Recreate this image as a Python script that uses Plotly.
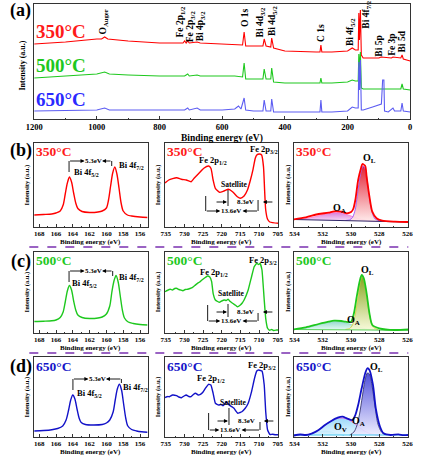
import plotly.graph_objects as go

W, H = 422, 462
FONT = "Liberation Serif, Times New Roman, serif"

# ---------------- data ----------------
# (a) survey spectra: binding energy (eV) / intensity (a.u.)
survey_be_350 = [1200,1100,1000,985,975,965,900,800,725,720,715,710,705,680,670,600,560,535,530,525,
                 500,470,466,460,445,442,436,400,300,288,285,282,250,200,185,175,166,164,162,159,
                 156,150,100,93,60,55,30,26,22,0]
survey_int_350 = [75,77,80,80,82,80,78,76,76,78,76,78,76,77,76,75,75,74,87,73,
                  73,73,80,73,72,81,71,68,67,67,74,67,67,68,71,69,69,106,79,109,
                  64,61,61,62,61,62,61,64,60,58]
survey_be_500 = [1200,1100,1000,975,960,900,800,720,710,705,680,670,600,560,535,530,525,500,470,466,
                 460,445,442,436,400,300,288,285,282,250,200,185,175,166,164,162,159,156,150,100,
                 55,30,26,22,0]
survey_int_500 = [41,43,45,47,45,44,43,43,45,43,44,43,43,43,42,56,40,40,40,50,
                  40,40,51,37,36,36,36,41,36,36,37,39,38,38,65,49,67,31,30,30,
                  30,30,35,30,29]
survey_be_650 = [1200,1000,975,960,800,720,710,705,680,670,600,560,548,540,530,525,500,470,466,460,
                 445,442,436,400,300,288,285,282,250,200,185,175,166,164,162,159,156,150,120,100,
                 92,88,84,82,70,55,50,30,26,22,0]
survey_int_650 = [8,9,11,9,9,9,11,9,11,9,9,10,13,10,21,9,8,8,19,8,
                  8,20,7,7,7,7,19,7,7,8,12,11,11,57,29,59,9,9,12,14,
                  15,39,39,8,7,11,8,8,16,8,7]

# Bi 4f
bi_be_350 = [168.6,167.5,166.5,166.0,165.5,165.15,164.9,164.65,164.4,164.15,163.9,163.65,163.4,162.9,162.0,
             161.0,160.5,160.0,159.75,159.5,159.25,159.0,158.75,158.5,158.25,158.0,157.5,157.0,156.0,155.1]
bi_int_350 = [12,12.5,13,14,16,22,33,44,50,45,34,24,18.5,15.5,14.5,
              15,16,19,27,41,54,60,53,39,24,16,12,11,10,9.5]
bi_be_500 = [168.6,167.5,166.5,166.0,165.5,165.15,164.9,164.65,164.4,164.15,163.9,163.65,163.4,162.9,162.0,
             161.0,160.5,160.0,159.6,159.35,159.1,158.85,158.6,158.35,158.1,157.85,157.4,156.8,156.0,155.1]
bi_int_500 = [10.5,10.8,11.2,12,14.5,20,30,41,46.5,42,31,22,17,14.5,13.5,
              14,15,18,26,40,51,56.5,50,36,22,14,10,8.5,7.5,7]
bi_be_650 = [168.6,167.5,166.5,165.8,165.2,164.8,164.5,164.25,164.0,163.75,163.5,163.25,163.0,162.5,161.5,
             160.5,160.0,159.6,159.2,158.95,158.7,158.45,158.2,157.95,157.7,157.45,157.0,156.4,155.8,155.1]
bi_int_650 = [5,5.5,6.3,7.5,10,16,26,36,41,37,27,18,13.5,11.5,11,
              11.5,13,16,24,36,47,51.7,46,32,18,10,6.5,5,4.2,3.7]

# Fe 2p
fe_be_350 = [735.2,734.2,732.1,730.8,729.5,728.2,727.4,726.1,724.8,723.5,722.9,722.3,721.7,720.6,719.4,718.2,
             717.1,715.8,715.0,714.0,713.1,712.3,711.6,711.0,710.6,709.9,709.3,708.8,708.5,708.2,707.7,707.1,704.8]
fe_int_350 = [44,47,49.3,47.7,47,45.3,48.7,53.7,58.7,61,58.7,47,38.7,34.7,36,37.7,
              35.3,30.3,28.7,31,37,47,57.7,68.7,72,73,72,60.3,37,17,7.7,5,3.7]
fe_be_500 = [735.2,734.6,733.8,733.2,732.6,732.1,731.5,730.9,730.4,729.8,729.1,728.5,727.8,727.2,726.5,725.9,
             725.3,724.6,723.8,723.2,722.7,722.3,721.7,721.1,720.6,720.0,719.3,718.8,718.3,717.7,717.1,716.4,
             715.8,715.0,714.5,714.0,712.9,712.0,711.3,710.6,710.1,709.7,709.2,708.6,708.2,707.7,707.2,706.6,
             706.0,705.2,704.8]
fe_int_500 = [40.3,41.5,42.7,42,43.5,43.7,42.5,41.8,41.3,42.5,42.7,43.5,44.7,46.5,48.7,50,
              52,54,56,55,50.3,38.7,32,30.5,29.7,31,32,31.5,32.7,30.5,28.7,27,
              25.3,27,29,32,42,55.3,65.3,68.7,67.5,68.7,62,32,13.7,3.7,1.8,2.5,
              1.5,2,2]
fe_be_650 = [735.2,734.5,734.0,733.2,732.1,731.5,730.8,730.1,729.5,728.8,728.2,727.6,727.0,726.3,725.7,725.0,
             724.4,723.5,722.9,722.3,721.7,720.8,720.2,719.7,719.2,718.8,718.0,717.4,716.7,716.2,715.7,715.1,
             714.6,713.7,712.9,712.0,711.2,710.6,710.1,709.6,709.2,708.6,708.2,707.7,707.1,706.4,705.6,704.8]
fe_int_650 = [38.5,39.5,39.3,41,40.3,39,38.3,40,41,39.5,39.3,41.5,42.7,41,41.7,44,
              47.7,51.7,51,42.7,32.7,31,31.5,30.3,32,34.3,31,29.5,27.7,25,22.7,23.5,
              24.3,27.7,32.7,44.3,57.7,65,66,65.5,65,51,24.3,6,1.5,1.8,1.2,1.3]

# O 1s envelopes, backgrounds and fitted components
o_be_350 = [534.05,533.2,532.3,531.6,531.2,530.7,530.3,530.0,529.85,529.7,529.5,529.3,529.2,529.0,528.9,528.7,528.5,528.2,527.8,526.9,525.95]
o_int_350 = [7.7,9.7,13,14.3,15.7,15.3,13.7,15,18,27,47,58.7,63,61,50.3,30.3,15.3,8.7,6.3,5.3,5]
o_bg_be_350 = [534.05,525.95]
o_bg_350 = [7.5,5.0]
oa_be_350 = [534.05,533.2,532.5,532.0,531.5,531.0,530.5,530.0,529.5,529.0,528.5,527.8,525.95]
oa_350 = [7.5,8.5,10.5,12.5,14,14.5,13.5,11,8.5,6.8,6,5.8,5]
ol_be_350 = [530.4,530.1,529.9,529.7,529.5,529.3,529.15,529.0,528.85,528.7,528.5,528.3,528.0]
ol_350 = [6.5,7.2,9.5,18,38,55,61,58,46,29,14,8,6.3]

o_be_500 = [534.05,533.2,532.3,531.6,531.2,530.7,530.4,530.0,529.8,529.6,529.4,529.25,529.1,528.9,528.7,528.5,528.0,526.9,525.95]
o_int_500 = [2.7,4.7,8,10.3,11.3,11,10.3,10.3,18.7,35.3,50.3,57,53.7,38.7,18.7,7,3.7,2,2.7]
o_bg_be_500 = [534.05,525.95]
o_bg_500 = [2.5,1.8]
oa_be_500 = [534.05,533.2,532.5,532.0,531.5,531.0,530.5,530.0,529.5,529.0,528.5,527.8,525.95]
oa_500 = [2.5,4,6.5,8.5,10,10.5,9.5,7.5,5,3.2,2.4,2.1,1.8]
ol_be_500 = [530.4,530.1,529.9,529.7,529.5,529.35,529.22,529.1,528.95,528.8,528.6,528.4,528.1]
ol_500 = [2.6,3.5,7,18,36,50,55.5,52,42,26,11,4.5,2.4]

o_be_650 = [534.05,533.6,533.2,532.75,532.3,531.85,531.4,530.95,530.6,530.3,529.9,529.7,529.5,529.25,529.0,
            528.85,528.7,528.45,528.25,527.95,527.7,527.2,526.65,526.3,525.95]
o_int_650 = [0.5,1.5,1,2.7,6,11,15,18.3,19.3,17.7,16,21,31,47.7,62.7,67.7,66,51,27.7,9.3,2.7,1,1.7,0.8,1]
o_bg_be_650 = [534.05,525.95]
o_bg_650 = [1.0,1.0]
ov_be_650 = [533.2,532.7,532.2,531.8,531.4,531.0,530.5]
ov_650 = [1,2.5,4.2,4.8,4,2.3,1]
oa_be_650 = [533.2,532.6,532.0,531.5,531.0,530.6,530.2,529.8,529.4,529.0,528.5,528.0]
oa_650 = [1,3.5,9,14.5,17.5,18,16.5,13,8.5,4.5,1.8,1]
ol_be_650 = [530.1,529.8,529.6,529.4,529.2,529.0,528.85,528.7,528.5,528.3,528.1,527.85,527.6]
ol_650 = [1,4,10,22,40,57,63,62,49,29,12,4,1.2]

temps = ["350°C", "500°C", "650°C"]
tick_bi = [168, 166, 164, 162, 160, 158, 156]
tick_fe = [735, 730, 725, 720, 715, 710, 705]
tick_o = [534, 532, 530, 528, 526]
tick_survey = [1200, 1000, 800, 600, 400, 200, 0]

# ---------------- styling ----------------
RED, GREEN, BLUE_A, BLUE = "#ff0000", "#1ec81e", "#5c5cf2", "#1212c8"
TXT_COL = ["#ff1a1a", "#1ec81e", "#1a1ae0"]

fig = go.Figure()
ann, shapes = [], []


def tx(x, y, s, size, color="black", xa="center", ya="middle", angle=0):
    ann.append(dict(x=x / W, y=1 - y / H, xref="paper", yref="paper", text=s, showarrow=False,
                    font=dict(family=FONT, size=size, color=color), xanchor=xa, yanchor=ya,
                    textangle=angle, borderpad=0))


def ln(x0, y0, x1, y1, color="black", width=0.9, dash=None):
    d = dict(type="line", xref="paper", yref="paper", x0=x0 / W, y0=1 - y0 / H, x1=x1 / W, y1=1 - y1 / H,
             line=dict(color=color, width=width))
    if dash:
        d["line"]["dash"] = dash
    shapes.append(d)


def arr(tx_, ty_, hx, hy):
    ann.append(dict(x=hx / W, y=1 - hy / H, xref="paper", yref="paper", ax=tx_ - hx, ay=ty_ - hy,
                    text="", showarrow=True, arrowhead=2, arrowsize=0.9, arrowwidth=0.9, arrowcolor="black"))


def add(x, y, ax, color, width=1.3, smooth=0.8, shape="spline", fill=None, grad=None):
    kw = dict(x=x, y=y, mode="lines", xaxis="x" + ax, yaxis="y" + ax, showlegend=False, hoverinfo="skip",
              line=dict(color=color, width=width, shape=shape))
    if shape == "spline":
        kw["line"]["smoothing"] = smooth
    if fill:
        kw["fill"] = fill
        if grad:
            kw["fillgradient"] = dict(type="vertical", colorscale=grad)
    fig.add_trace(go.Scatter(**kw))


# ---------------- traces ----------------
add(survey_be_350, survey_int_350, "", RED, 1.1, shape="linear")
add(survey_be_500, survey_int_500, "", GREEN, 1.1, shape="linear")
add(survey_be_650, survey_int_650, "", BLUE_A, 1.1, shape="linear")

cols = [RED, GREEN, BLUE]
bi = [(bi_be_350, bi_int_350), (bi_be_500, bi_int_500), (bi_be_650, bi_int_650)]
fe = [(fe_be_350, fe_int_350), (fe_be_500, fe_int_500), (fe_be_650, fe_int_650)]
for r in range(3):
    add(bi[r][0], bi[r][1], str(2 + 3 * r), cols[r], 1.4)
    add(fe[r][0], fe[r][1], str(3 + 3 * r), cols[r], 1.4, smooth=0.6 if r == 0 else 0.3)

# O 1s panels
o_sets = [
    dict(ax="4", env=(o_be_350, o_int_350), bg=(o_bg_be_350, o_bg_350), bgcol="#2e2466", col=RED,
         comps=[((oa_be_350, oa_350), "#ff7fd0", [[0, "rgba(250,230,250,0.9)"], [1, "rgba(214,110,214,0.9)"]]),
                ((ol_be_350, ol_350), "#9a55ff", [[0, "rgba(255,235,235,0.9)"], [1, "rgba(225,20,40,0.95)"]])]),
    dict(ax="7", env=(o_be_500, o_int_500), bg=(o_bg_be_500, o_bg_500), bgcol="#58d058", col=GREEN,
         comps=[((oa_be_500, oa_500), "#8fd8c8", [[0, "rgba(230,250,245,0.9)"], [1, "rgba(140,215,200,0.9)"]]),
                ((ol_be_500, ol_500), "#d8d040", [[0, "rgba(248,250,215,0.9)"], [1, "rgba(128,160,20,0.95)"]])]),
    dict(ax="10", env=(o_be_650, o_int_650), bg=(o_bg_be_650, o_bg_650), bgcol="#40c4f0", col=BLUE,
         comps=[((ov_be_650, ov_650), "#40b8e8", [[0, "rgba(170,225,245,0.9)"], [1, "rgba(80,190,235,0.95)"]]),
                ((oa_be_650, oa_650), "#e050e0", [[0, "rgba(225,245,255,0.9)"], [1, "rgba(150,215,250,0.95)"]]),
                ((ol_be_650, ol_650), "#3a3a70", [[0, "rgba(235,235,255,0.9)"], [1, "rgba(70,70,215,0.95)"]])]),
]
for s in o_sets:
    for (cx, cy), lc, grad in s["comps"]:
        add(s["bg"][0], s["bg"][1], s["ax"], "rgba(0,0,0,0)", 0, shape="linear")
        add(cx, cy, s["ax"], lc, 0.9, fill="tonexty", grad=grad)
    add(s["bg"][0], s["bg"][1], s["ax"], s["bgcol"], 1.1, shape="linear")
    add(s["env"][0], s["env"][1], s["ax"], s["col"], 1.8, smooth=0.7)

# ---------------- axes ----------------
layout = dict(width=W, height=H, margin=dict(l=0, r=0, t=0, b=0), paper_bgcolor="white",
              plot_bgcolor="white", autosize=False)


def dom_x(a, b):
    return [a / W, b / W]


def dom_y(top, bot):
    return [1 - bot / H, 1 - top / H]


def set_axes(i, xd, yd, xr, yr, tv, size, minor):
    k = "" if i == 1 else str(i)
    layout["xaxis" + k] = dict(domain=xd, range=xr, anchor="y" + k, tickvals=tv, ticks="inside", ticklen=3,
                               tickwidth=0.8, tickcolor="#333", showline=True, linecolor="#333", linewidth=1,
                               mirror=True, showgrid=False, zeroline=False,
                               tickfont=dict(family=FONT, size=size, color="black", weight="bold"),
                               minor=dict(ticks="inside", ticklen=1.5, dtick=minor, tickcolor="#333"))
    layout["yaxis" + k] = dict(domain=yd, range=yr, anchor="x" + k, showticklabels=False, ticks="",
                               showline=True, linecolor="#333", linewidth=1, mirror=True, showgrid=False,
                               zeroline=False)


set_axes(1, dom_x(27, 415), dom_y(4, 119), [1200, 0], [0, 115], tick_survey, 8.5, 100)
rows = [(143, 227, [0, 84]), (252, 333, [-1, 80]), (357, 437, [-1, 79])]
colx = [(27, 144), (162, 279), (295, 413)]
xr = [[168.6, 155.1], [735.2, 704.8], [534.05, 525.95]]
tvs = [tick_bi, tick_fe, tick_o]
mins = [1, 2.5, 1]
for r, (t, b, yr) in enumerate(rows):
    for c in range(3):
        set_axes(2 + 3 * r + c, dom_x(*colx[c]), dom_y(t, b), xr[c], yr, tvs[c], 7, mins[c])

# ---------------- texts ----------------
B = lambda s: "<b>" + s + "</b>"
# panel (a)
tx(13, 10, B("(a)"), 18)
tx(28, 31, B(temps[0]), 19, TXT_COL[0], xa="left")
tx(28, 66, B(temps[1]), 19, TXT_COL[1], xa="left")
tx(28, 99, B(temps[2]), 19, "#2a2aff", xa="left")
peak_labels = [("O<sub>Auger</sub>", 99, 35), ("Fe 2p<sub>1/2</sub>", 178, 39), ("Fe 2p<sub>3/2</sub>", 188, 43),
               ("Bi 4p<sub>3/2</sub>", 199, 42), ("O 1s", 245, 28), ("Bi 4d<sub>3/2</sub>", 261, 38),
               ("Bi 4d<sub>5/2</sub>", 273, 37), ("C 1s", 323, 43), ("Bi 4f<sub>5/2</sub>", 354, 47),
               ("Bi 4f<sub>7/2</sub>", 369, 30), ("Bi 5p", 383, 58), ("Fe 3p", 396, 57), ("Bi 5d", 407, 53)]
for s, x, y in peak_labels:
    tx(x, y, B(s), 9.5, ya="bottom", angle=-90)
tx(15, 66, B("Intensity (a.u.)"), 8, angle=-90)
tx(221, 138, B("Binding energy (eV)"), 9.5)

row_tags = ["(b)", "(c)", "(d)"]
row_top_txt = [151, 260, 366]
tag_y = [150, 261, 366]
ytitle_y = [185, 292, 397]
xtitle_y = [242, 348, 452]
for r in range(3):
    col = TXT_COL[r] if r < 2 else "#1414c8"
    tx(13, tag_y[r], B(row_tags[r]), 18)
    for c in range(3):
        tx(colx[c][0] + 1, row_top_txt[r], B(temps[r]), 13.5, col, xa="left")
        tx([20, 155, 289][c], ytitle_y[r], B("Intensity (a.u.)"), 6.5, angle=-90)
        tx((colx[c][0] + colx[c][1]) / 2, xtitle_y[r], B("Binding energy (eV)"), 7)

# Bi 4f labels and 5.3 eV brackets
bi_lab = [((67, 173), (114, 166)), ((65, 283), (113, 277)), ((70, 393), (118, 387))]
bi_br = [(161, 63, 172, 107, 166, 88), (271, 63, 282, 108, 276, 88), (379, 67, 390, 117, 383, 92)]
for r in range(3):
    (x1, y1), (x2, y2) = bi_lab[r]
    tx(x1, y1, B("Bi 4f<sub>5/2</sub>"), 8.5, xa="left")
    tx(x2, y2, B("Bi 4f<sub>7/2</sub>"), 8.5, xa="left")
    yb, xl, yl, xr_, yr_, xt = bi_br[r]
    ln(xl, yb, xl, yl)
    ln(xr_, yb, xr_, yr_)
    arr(xl, yb, xt - 9, yb)
    arr(xr_, yb, xt + 9, yb)
    tx(xt, yb, B("5.3eV"), 7)

# Fe 2p labels and brackets
fe_lab = [((212, 160), (264, 149), (233, 184)), ((213, 272), (263, 260), (230, 293)),
          ((209, 378), (262, 365), (232, 402))]
fe_br = [((211, 204, 196, 258, 200, 230), (202, 227, 190, 206, 245)),
         ((321, 206, 305, 258, 313, 230), (312, 227, 304, 317, 245)),
         ((430, 207, 413, 260, 422, 229), (421, 228, 408, 425, 246))]
for r in range(3):
    (a1, a2, a3) = fe_lab[r]
    tx(a1[0], a1[1], B("Fe 2p<sub>1/2</sub>"), 8.5)
    tx(a2[0], a2[1], B("Fe 2p<sub>3/2</sub>"), 8.5)
    tx(a3[0], a3[1], B("Satellite"), 7.5)
    (yb, xl, yl, xr_, yr_, xt), (y8, xv, yv0, yv1, xt8) = fe_br[r]
    ln(xl, yl, xl, yb)
    ln(xr_, yr_, xr_, yb)
    arr(xl, yb, xt - 11, yb)
    arr(xr_, yb, xt + 12, yb)
    tx(xt, yb, B("13.6eV"), 7)
    ln(xv, yv0, xv, yv1)
    arr(xv - 13, y8, xv - 1, y8)
    arr(xt8 + 29, y8, xt8 + 18, y8)
    tx(xt8, y8, B("8.3eV"), 7)

# O 1s labels
tx(373, 158, B("O<sub>L</sub>"), 10)
tx(342, 208, B("O<sub>A</sub>"), 10)
tx(371, 270, B("O<sub>L</sub>"), 10)
tx(356, 320, B("O<sub>A</sub>"), 10)
tx(380, 367, B("O<sub>L</sub>"), 10)
tx(362, 421, B("O<sub>A</sub>"), 10)
tx(343, 427, B("O<sub>V</sub>"), 10)

# dashed separators
ln(22, 247, 413, 247, "#7a30b0", 1.6, "dash")
ln(22, 353, 413, 353, "#7a30b0", 1.6, "dash")

layout["annotations"] = ann
layout["shapes"] = shapes
fig.update_layout(**layout)
fig.write_html("out.html", config={"displayModeBar": False},
               post_script="document.body.style.margin='0';document.body.style.overflow='hidden';")
